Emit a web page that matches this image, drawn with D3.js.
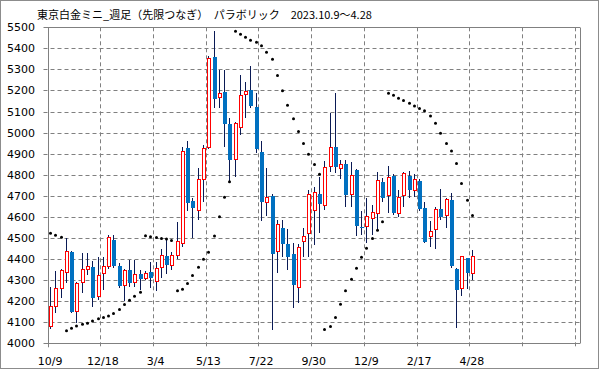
<!DOCTYPE html>
<html>
<head>
<meta charset="utf-8">
<script src="https://cdn.jsdelivr.net/npm/d3@7"></script>
<style>
  body { margin: 0; background: #fff; }
  svg { display: block; }
</style>
</head>
<body>
<svg id="chart"></svg>
<script>
// weekly candles, Tokyo platinum mini, with parabolic SAR
const dateLabels = ['10/9', '12/18', '3/4', '5/13', '7/22', '9/30', '12/9', '2/17', '4/28'];
const yTicks = [4000, 4100, 4200, 4300, 4400, 4500, 4600, 4700, 4800, 4900, 5000, 5100, 5200, 5300, 5400, 5500];

const open  = [4079,4174,4256,4335,4435,4150,4288,4348,4361,4218,4330,4360,4490,4367,4274,4348,4285,4329,4305,4340,
               4293,4356,4416,4366,4413,4472,4926,4677,4628,4774,4929,5358,5163,5191,5043,4869,5021,5177,5201,5122,
               4908,4665,4698,4435,4546,4470,4422,4261,4479,4521,4630,4709,4653,4835,4930,4826,4851,4702,4823,4553,
               4551,4588,4616,4766,4699,4794,4612,4698,4793,4724,4770,4644,4503,4538,4637,4604,4680,4353,4258,4403,4327];
const high  = [4266,4345,4352,4498,4440,4290,4427,4427,4392,4411,4408,4514,4514,4380,4353,4396,4396,4348,4345,4388,
               4385,4448,4490,4435,4574,4930,4960,4688,4831,4940,5366,5483,5297,5297,5068,5052,5274,5239,5316,5187,
               4960,4831,4707,4585,4585,4543,4475,4470,4549,4728,4740,4791,4865,5092,5187,4870,4870,4862,4828,4628,
               4688,4656,4812,4783,4842,4802,4727,4815,4818,4806,4780,4672,4580,4648,4732,4688,4712,4359,4414,4403,4443];
const low   = [4068,4146,4215,4288,4142,4095,4240,4324,4174,4206,4253,4355,4356,4262,4203,4269,4269,4253,4300,4261,
               4250,4309,4328,4348,4400,4459,4628,4498,4585,4669,4920,5119,5116,4934,4767,4791,4989,5071,5116,4902,
               4581,4606,4063,4332,4408,4348,4166,4193,4408,4408,4467,4525,4633,4815,4810,4778,4649,4649,4509,4514,
               4478,4514,4537,4669,4617,4609,4600,4649,4688,4693,4630,4474,4459,4448,4585,4546,4356,4071,4226,4258,4300];
const close = [4177,4261,4348,4438,4150,4285,4351,4367,4214,4324,4368,4506,4367,4272,4348,4285,4328,4305,4332,4312,
               4356,4419,4372,4419,4486,4913,4668,4641,4780,4926,5353,5160,5187,5041,4870,5044,5177,5198,5128,4922,
               4669,4693,4426,4565,4473,4411,4277,4456,4509,4707,4717,4661,4835,4930,4835,4850,4702,4799,4558,4545,
               4604,4623,4775,4688,4791,4620,4696,4810,4728,4780,4637,4482,4533,4637,4601,4683,4368,4253,4414,4332,4414];
const sar   = [4522,4513,4503,4060,4072,4082,4091,4095,4106,4116,4122,4130,4142,4161,4184,4204,4223,4242,4511,4506,
               4502,4497,4495,4488,4250,4257,4284,4322,4361,4399,4432,4509,4601,4693,4767,5481,5467,5453,5438,5429,
               5413,5381,5348,5271,5199,5130,5066,5005,4949,4897,4849,4802,4066,4080,4123,4185,4249,4304,4356,4408,
               4451,4498,4537,4577,5187,5177,5163,5152,5139,5126,5115,5104,5079,5044,4997,4949,4913,4854,4759,4679,4607];

const W = 599, H = 369;
const plotL = 47.5, plotR = 580, plotT = 27.3, plotB = 343.3;
const slots = 101;

const svg = d3.select('#chart').attr('width', W).attr('height', H);

// outer frame
svg.append('rect')
  .attr('x', 0.5).attr('y', 0.5)
  .attr('width', W - 1).attr('height', H - 1)
  .attr('fill', '#fff').attr('stroke', '#8c8c8c');

const x = d3.scaleLinear().domain([0, slots]).range([plotL, plotR]);
const y = d3.scaleLinear().domain([4000, 5500]).range([plotB, plotT]);
const cx = i => Math.round(x(i + 0.5));
const py = v => Math.round(y(v)) + 0.5;

// title
svg.append('text')
  .attr('x', 37).attr('y', 19)
  .style('font-family', '"Noto Sans CJK JP", sans-serif')
  .style('font-size', '11px')
  .attr('fill', '#000')
  .text('東京白金ミニ_週足（先限つなぎ）　パラボリック　2023.10.9～4.28');

const grid = svg.append('g');

// horizontal grid + y labels
yTicks.forEach(v => {
  const yy = py(v);
  const edge = (v === 4000 || v === 5500);
  grid.append('line')
    .attr('x1', plotL - 4).attr('x2', plotR)
    .attr('y1', yy).attr('y2', yy)
    .attr('stroke', '#808080')
    .attr('stroke-dasharray', edge ? null : '4,3');
  svg.append('text')
    .attr('x', 35).attr('y', yy)
    .attr('dy', '0.36em')
    .attr('text-anchor', 'end')
    .style('font-family', '"DejaVu Sans", sans-serif')
    .style('font-size', '11px')
    .attr('fill', '#000')
    .text(v);
});

// vertical grid every 10 weeks
d3.range(0, slots, 10).forEach(s => {
  const xx = Math.round(x(s)) + 0.5;
  grid.append('line')
    .attr('x1', xx).attr('x2', xx)
    .attr('y1', plotT).attr('y2', plotB + 4)
    .attr('stroke', '#808080')
    .attr('stroke-dasharray', s === 0 ? null : '4,3');
});

// plot frame right edge
grid.append('line')
  .attr('x1', Math.round(plotR) + 0.5).attr('x2', Math.round(plotR) + 0.5)
  .attr('y1', py(5500)).attr('y2', py(4000))
  .attr('stroke', '#808080');

// x labels at slot centres
dateLabels.forEach((d, k) => {
  svg.append('text')
    .attr('x', x(k * 10 + 0.5)).attr('y', 365)
    .attr('text-anchor', 'middle')
    .style('font-family', '"DejaVu Sans", sans-serif')
    .style('font-size', '11px')
    .attr('fill', '#000')
    .text(d);
});

// candles
const candles = svg.append('g');
open.forEach((o, i) => {
  const c = close[i];
  const xc = cx(i);
  candles.append('line')
    .attr('x1', xc + 0.5).attr('x2', xc + 0.5)
    .attr('y1', Math.round(y(high[i]))).attr('y2', Math.round(y(low[i])))
    .attr('stroke', '#0a1a55').attr('stroke-width', 1);
  const y0 = Math.round(y(Math.max(o, c))), y1 = Math.round(y(Math.min(o, c)));
  if (c >= o) {
    candles.append('rect')
      .attr('x', xc - 0.5).attr('y', y0 + 0.5)
      .attr('width', 3).attr('height', Math.max(y1 - y0 - 1, 1))
      .attr('fill', '#fff').attr('stroke', '#ff0000').attr('stroke-width', 1);
  } else {
    candles.append('rect')
      .attr('x', xc - 1).attr('y', y0)
      .attr('width', 4).attr('height', Math.max(y1 - y0, 1))
      .attr('fill', '#0070c0');
  }
});

// parabolic SAR dots
svg.append('g').selectAll('circle')
  .data(sar)
  .join('circle')
    .attr('cx', (d, i) => cx(i) + 0.5)
    .attr('cy', d => y(d))
    .attr('r', 1.5)
    .attr('fill', '#000');
</script>
</body>
</html>
